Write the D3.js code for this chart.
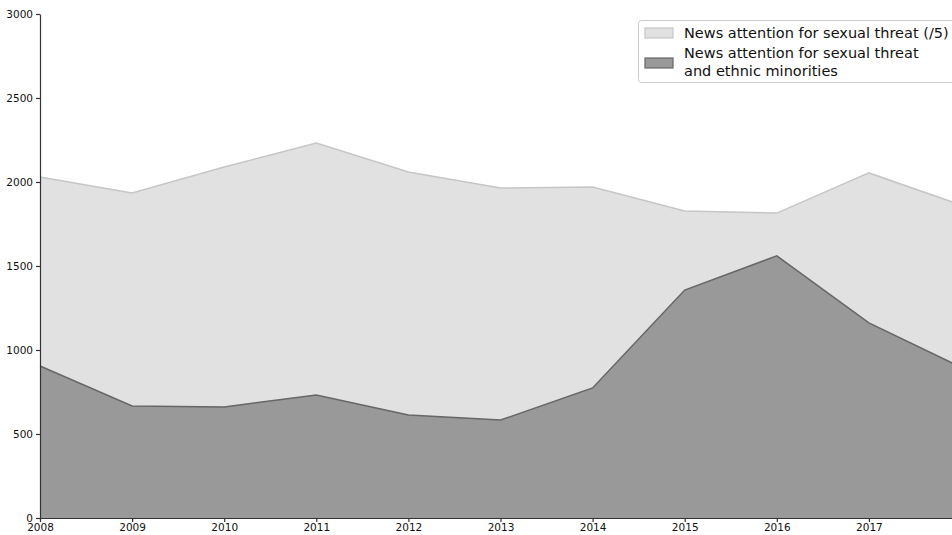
<!DOCTYPE html>
<html>
<head>
<meta charset="utf-8">
<script src="https://cdn.jsdelivr.net/npm/d3@7"></script>
<style>
  body { margin: 0; background: #fff; }
  svg { display: block; font-family: "DejaVu Sans", sans-serif; }
</style>
</head>
<body>
<div class="chart"></div>
<script>
// data
var years = [2008, 2009, 2010, 2011, 2012, 2013, 2014, 2015, 2016, 2017, 2018];
var sexualThreat = [2030, 1935, 2089, 2232, 2060, 1964, 1970, 1827, 1815, 2054, 1863];
var sexualEthnic = [905, 667, 661, 732, 613, 583, 774, 1357, 1560, 1161, 898];
var yTicks = [0, 500, 1000, 1500, 2000, 2500, 3000];
var xTicks = [2008, 2009, 2010, 2011, 2012, 2013, 2014, 2015, 2016, 2017];
var legendLabels = [
  ["News attention for sexual threat (/5)"],
  ["News attention for sexual threat", "and ethnic minorities"]
];

var svgWidth = 952;
var svgHeight = 535;

var svg = d3.select(".chart")
  .append("svg")
  .attr("width", svgWidth)
  .attr("height", svgHeight);

var x = d3.scaleLinear().domain([2008, 2018]).range([40, 961]);
var y = d3.scaleLinear().domain([0, 3000]).range([518, 14]);

var rows = years.map(function(yr, i) {
  return { year: yr, light: sexualThreat[i], dark: sexualEthnic[i] };
});

// light area
svg.append("path")
  .datum(rows)
  .attr("fill", "#e1e1e1")
  .attr("d", d3.area().x(d => x(d.year)).y0(y(0)).y1(d => y(d.light)));

svg.append("path")
  .datum(rows)
  .attr("fill", "none")
  .attr("stroke", "#c6c6c6")
  .attr("stroke-width", 1.5)
  .attr("d", d3.line().x(d => x(d.year)).y(d => y(d.light)));

// dark area
svg.append("path")
  .datum(rows)
  .attr("fill", "#999999")
  .attr("d", d3.area().x(d => x(d.year)).y0(y(0)).y1(d => y(d.dark)));

svg.append("path")
  .datum(rows)
  .attr("fill", "none")
  .attr("stroke", "#666666")
  .attr("stroke-width", 1.5)
  .attr("d", d3.line().x(d => x(d.year)).y(d => y(d.dark)));

// axes
var yAxis = svg.append("g")
  .attr("transform", "translate(40,0)")
  .call(d3.axisLeft(y).tickValues(yTicks).tickFormat(d3.format("d"))
    .tickSize(4).tickPadding(3).tickSizeOuter(0));

var xAxis = svg.append("g")
  .attr("transform", "translate(0,518)")
  .call(d3.axisBottom(x).tickValues(xTicks).tickFormat(d3.format("d"))
    .tickSize(4).tickPadding(2).tickSizeOuter(0));

[yAxis, xAxis].forEach(function(a) {
  a.selectAll("path, line").attr("stroke", "#333").attr("stroke-width", 1.2);
  a.selectAll("text").attr("fill", "#111").style("font-size", "10.5px")
    .style("font-family", "'DejaVu Sans', sans-serif");
});
yAxis.selectAll("text").attr("dy", "0.3em");

// legend
var legend = svg.append("g");
legend.append("rect")
  .attr("x", 638.5).attr("y", 20.5)
  .attr("width", 330).attr("height", 62)
  .attr("rx", 3)
  .attr("fill", "#fff")
  .attr("stroke", "#cccccc");

var patchY = [28, 58];
var textY = [[38], [58, 76]];
var fills = ["#e1e1e1", "#999999"];
var strokes = ["#c6c6c6", "#666666"];

legendLabels.forEach(function(lines, i) {
  legend.append("rect")
    .attr("x", 645).attr("y", patchY[i])
    .attr("width", 28).attr("height", 10)
    .attr("fill", fills[i])
    .attr("stroke", strokes[i])
    .attr("stroke-width", 1.2);
  lines.forEach(function(t, j) {
    legend.append("text")
      .attr("x", 684).attr("y", textY[i][j])
      .style("font-size", "14.5px")
      .attr("fill", "#111")
      .text(t);
  });
});
</script>
</body>
</html>
